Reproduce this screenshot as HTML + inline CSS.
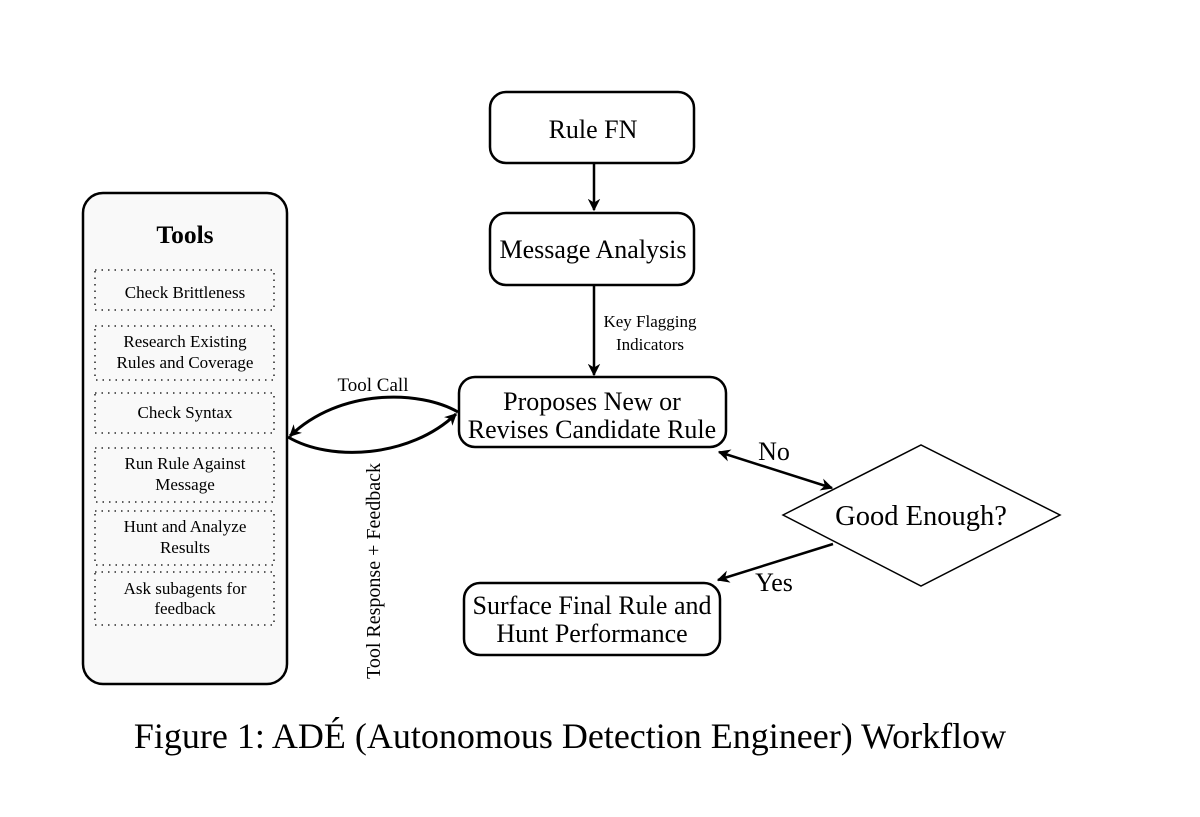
<!DOCTYPE html>
<html><head><meta charset="utf-8"><style>
body{margin:0;background:#fff;}
svg{display:block;font-family:"Liberation Serif",serif;}
</style></head><body>
<svg width="1200" height="817" viewBox="0 0 1200 817">
<defs>
<marker id="ah" viewBox="0 0 10 10" refX="9" refY="5" markerWidth="5" markerHeight="5" orient="auto-start-reverse" markerUnits="strokeWidth">
<path d="M0,0 L10,5 L0,10 L3,5 z" fill="#000"/></marker>
<marker id="ah2" viewBox="0 0 10 10" refX="9" refY="5" markerWidth="4" markerHeight="4" orient="auto-start-reverse" markerUnits="strokeWidth">
<path d="M0,0 L10,5 L0,10 L3,5 z" fill="#000"/></marker>
</defs>
<rect width="1200" height="817" fill="#fff"/>
<rect x="83" y="193" width="204" height="491" rx="20" fill="#f9f9f9" stroke="#000" stroke-width="2.5"/>
<text x="185" y="243" font-size="25.5" font-weight="bold" text-anchor="middle">Tools</text>
<g fill="none" stroke="#000" stroke-width="1.3" stroke-dasharray="1.5 5">
<rect x="95" y="270" width="179" height="40"/>
<rect x="95" y="326" width="179" height="54"/>
<rect x="95" y="393" width="179" height="40"/>
<rect x="95" y="448" width="179" height="54"/>
<rect x="95" y="511" width="179" height="54"/>
<rect x="95" y="572" width="179" height="53"/>
</g>
<g font-size="17" text-anchor="middle">
<text x="185" y="298">Check Brittleness</text>
<text x="185" y="347">Research Existing</text>
<text x="185" y="368">Rules and Coverage</text>
<text x="185" y="418">Check Syntax</text>
<text x="185" y="469">Run Rule Against</text>
<text x="185" y="490">Message</text>
<text x="185" y="532">Hunt and Analyze</text>
<text x="185" y="553">Results</text>
<text x="185" y="594">Ask subagents for</text>
<text x="185" y="614">feedback</text>
</g>
<g fill="#fff" stroke="#000" stroke-width="2.5">
<rect x="490" y="92" width="204" height="71" rx="16"/>
<rect x="490" y="213" width="204" height="72" rx="16"/>
<rect x="459" y="377" width="267" height="70" rx="16"/>
<rect x="464" y="583" width="256" height="72" rx="16"/>
</g>
<polygon points="783,515 921,445 1060,515 921,586" fill="#fff" stroke="#000" stroke-width="1.5"/>
<g font-size="26" text-anchor="middle">
<text x="593" y="138">Rule FN</text>
<text x="593" y="258">Message Analysis</text>
<text x="592" y="410">Proposes New or</text>
<text x="592" y="438">Revises Candidate Rule</text>
<text x="592" y="614">Surface Final Rule and</text>
<text x="592" y="642">Hunt Performance</text>
<text x="921" y="525" font-size="28.5">Good Enough?</text>
<text x="774" y="460">No</text>
<text x="774" y="591">Yes</text>
<text x="570" y="748" font-size="36">Figure 1: ADÉ (Autonomous Detection Engineer) Workflow</text>
</g>
<g font-size="17" text-anchor="middle">
<text x="650" y="327">Key Flagging</text>
<text x="650" y="350">Indicators</text>
</g>
<text x="373" y="391" font-size="19" text-anchor="middle">Tool Call</text>
<text transform="translate(380,571) rotate(-90)" font-size="20" text-anchor="middle">Tool Response + Feedback</text>
<g fill="none" stroke="#000" stroke-width="2.5">
<line x1="594" y1="163" x2="594" y2="210" marker-end="url(#ah)"/>
<line x1="594" y1="285" x2="594" y2="375" marker-end="url(#ah)"/>
<path d="M458,412 C420,390 340,388 290,436" stroke-width="3" marker-end="url(#ah2)"/>
<path d="M288,437 C330,462 410,458 456,414" stroke-width="3" marker-end="url(#ah2)"/>
<line x1="719" y1="452" x2="832" y2="488" marker-start="url(#ah)" marker-end="url(#ah)"/>
<line x1="833" y1="544" x2="718" y2="580" marker-end="url(#ah)"/>
</g>
</svg>
</body></html>
